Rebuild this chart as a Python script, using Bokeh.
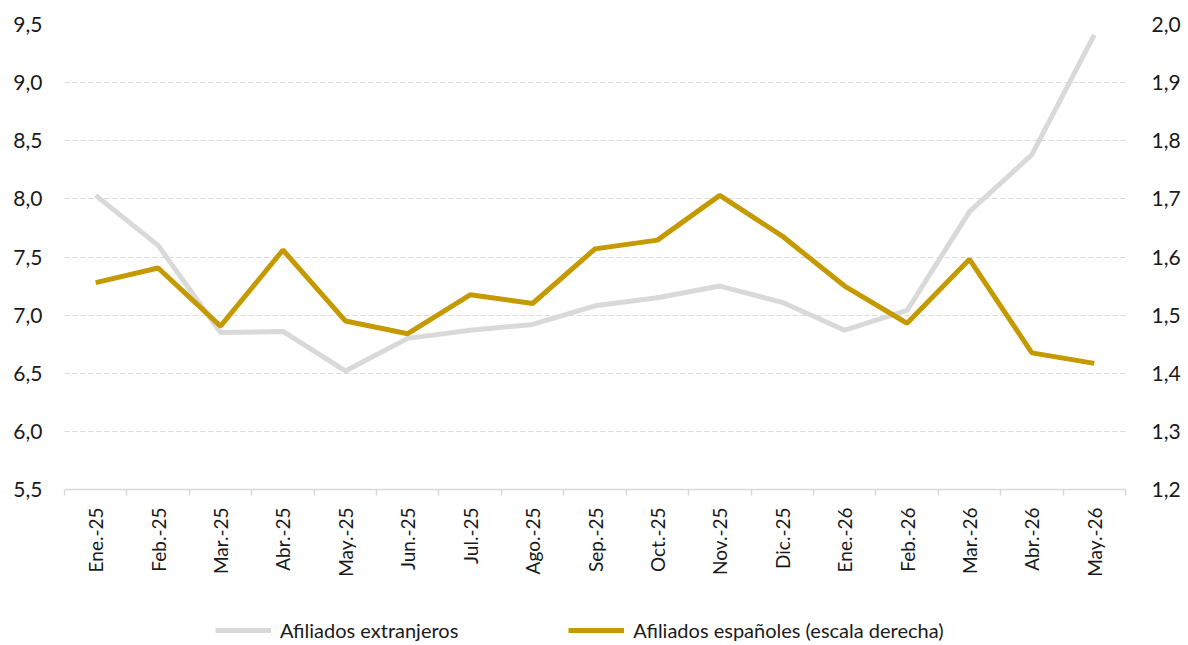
import math
from bokeh.plotting import figure
from bokeh.layouts import column
from bokeh.models import (Range1d, LinearAxis, FixedTicker, CustomJSTickFormatter,
                          Legend, LegendItem, ColumnDataSource, Grid)
from bokeh.embed import file_html
from bokeh.resources import INLINE

months = ["Ene.-25", "Feb.-25", "Mar.-25", "Abr.-25", "May.-25", "Jun.-25", "Jul.-25",
          "Ago.-25", "Sep.-25", "Oct.-25", "Nov.-25", "Dic.-25", "Ene.-26", "Feb.-26",
          "Mar.-26", "Abr.-26", "May.-26"]
extranjeros = [8.03, 7.60, 6.85, 6.86, 6.52, 6.80, 6.87, 6.92, 7.08, 7.15, 7.25, 7.11,
               6.87, 7.04, 7.89, 8.38, 9.41]
espanoles = [1.556, 1.581, 1.481, 1.612, 1.490, 1.468, 1.535, 1.520, 1.614, 1.629, 1.706,
             1.636, 1.550, 1.486, 1.596, 1.435, 1.417]
left_ticks = [5.5, 6.0, 6.5, 7.0, 7.5, 8.0, 8.5, 9.0, 9.5]
right_ticks = [1.2, 1.3, 1.4, 1.5, 1.6, 1.7, 1.8, 1.9, 2.0]
series_names = ["Afiliados extranjeros", "Afiliados españoles (escala derecha)"]

FONT = "Lato"
GRAY = "#d9d9d9"
GOLD = "#c49a00"
TXT = "#1a1a1a"

xpos = [i + 0.5 for i in range(len(months))]
src = ColumnDataSource(dict(x=xpos, ext=extranjeros, esp=espanoles))

p = figure(width=1183, height=605, output_backend="svg", toolbar_location=None,
           x_range=Range1d(0, len(months)), y_range=Range1d(5.5, 9.5),
           min_border_left=64, min_border_right=50, min_border_top=24, min_border_bottom=116,
           x_axis_type=None, y_axis_type=None)
p.outline_line_color = None
p.background_fill_color = "white"
p.border_fill_color = "white"
p.extra_y_ranges = {"right": Range1d(1.2, 2.0)}

fmt = CustomJSTickFormatter(code="return tick.toFixed(1).replace('.', ',');")

yl = LinearAxis(ticker=FixedTicker(ticks=left_ticks), formatter=fmt)
yr = LinearAxis(ticker=FixedTicker(ticks=right_ticks), formatter=fmt, y_range_name="right")
for ax in (yl, yr):
    ax.axis_line_color = None
    ax.major_tick_line_color = None
    ax.minor_tick_line_color = None
    ax.major_label_text_font = FONT
    ax.major_label_text_font_size = "21px"
    ax.major_label_text_color = TXT
yl.major_label_standoff = 16
yr.major_label_standoff = 20
p.add_layout(yl, "left")
p.add_layout(yr, "right")

xfmt = CustomJSTickFormatter(args=dict(labels=months),
                             code="return labels[Math.floor(tick)];")
xa = LinearAxis(ticker=FixedTicker(ticks=xpos, minor_ticks=list(range(len(months) + 1))),
                formatter=xfmt)
xa.axis_line_color = GRAY
xa.axis_line_width = 1.5
xa.major_tick_line_color = None
xa.minor_tick_line_color = GRAY
xa.minor_tick_line_width = 1.5
xa.minor_tick_out = 6
xa.minor_tick_in = 0
xa.major_label_orientation = math.pi / 2
xa.major_label_standoff = 12
xa.major_label_text_font = FONT
xa.major_label_text_font_size = "19px"
xa.major_label_text_color = TXT
p.add_layout(xa, "below")

g = Grid(dimension=1, ticker=FixedTicker(ticks=left_ticks))
g.grid_line_color = GRAY
g.grid_line_dash = "5 3"
g.grid_line_width = 1
p.add_layout(g, "center")

p.line("x", "ext", source=src, line_color=GRAY, line_width=5)
p.line("x", "esp", source=src, line_color=GOLD, line_width=5, y_range_name="right")

# Legend strip below the chart (lines kept out of view; only their legend keys show)
p2 = figure(width=1183, height=38, output_backend="svg", toolbar_location=None,
            x_range=Range1d(0, 1), y_range=Range1d(0, 1),
            min_border_left=0, min_border_right=0, min_border_top=0, min_border_bottom=0,
            x_axis_type=None, y_axis_type=None)
p2.outline_line_color = None
p2.background_fill_color = "white"
p2.border_fill_color = "white"
l1 = p2.line(x=[5, 6], y=[5, 5], line_color=GRAY, line_width=5)
l2 = p2.line(x=[5, 6], y=[5, 5], line_color=GOLD, line_width=5)

legend = Legend(items=[LegendItem(label=series_names[0], renderers=[l1]),
                       LegendItem(label=series_names[1], renderers=[l2])],
                orientation="horizontal", location=(151, 1))
legend.border_line_color = None
legend.background_fill_alpha = 0
legend.label_text_font = FONT
legend.label_text_font_size = "20px"
legend.label_text_color = TXT
legend.glyph_width = 56
legend.glyph_height = 20
legend.label_standoff = 9
legend.spacing = 110
legend.padding = 0
legend.margin = 0
p2.add_layout(legend, "center")

layout = column(p, p2, spacing=0)
open("out.html", "w").write(file_html(layout, INLINE))
